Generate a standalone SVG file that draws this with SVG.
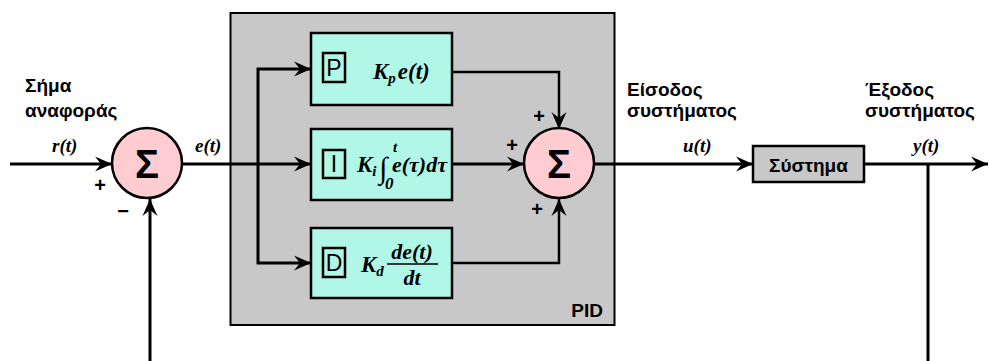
<svg xmlns="http://www.w3.org/2000/svg" width="989" height="361" viewBox="0 0 989 361">
<defs>
<marker id="ah" markerUnits="userSpaceOnUse" markerWidth="20" markerHeight="16" viewBox="-18 -8 20 16" refX="0" refY="0" orient="auto">
<path d="M0,0 L-17,-7.5 L-11,0 L-17,7.5 z" fill="#000"/>
</marker>
<style>
.ln{fill:none;stroke:#000;stroke-width:3}
.ln2{fill:none;stroke:#000;stroke-width:2.5}
.blk{fill:#b0f7e8;stroke:#000;stroke-width:2.5}
.sum{fill:#ffccd2;stroke:#000;stroke-width:2.5}
.lb{fill:none;stroke:#000;stroke-width:2.5}
.sans{font-family:"Liberation Sans",Arial,sans-serif;fill:#000}
.t{font-family:"Liberation Sans",Arial,sans-serif;font-size:19px;font-weight:bold}
.m{font-family:"Liberation Serif","Times New Roman",serif;font-style:italic;font-weight:bold;fill:#000}
.sg{font-family:"Liberation Sans",Arial,sans-serif;font-size:20px;font-weight:bold}
.S{font-family:"Liberation Sans",Arial,sans-serif;font-size:40px;font-weight:bold;text-anchor:middle}
</style>
</defs>

<g id="pid-box">
<rect x="230.5" y="13" width="384" height="312" fill="#c8c8c8" stroke="#000" stroke-width="2"/>
<text class="t" x="603" y="317" text-anchor="end">PID</text>
</g>

<g id="connectors">
<line class="ln" x1="10" y1="164" x2="112" y2="164" marker-end="url(#ah)"/>
<line class="ln" x1="150" y1="361" x2="150" y2="199" marker-end="url(#ah)"/>
<line class="ln" x1="182" y1="164" x2="311" y2="164" marker-end="url(#ah)"/>
<polyline class="ln" points="258,164 258,69 311,69" marker-end="url(#ah)"/>
<polyline class="ln" points="258,164 258,263 311,263" marker-end="url(#ah)"/>
<polyline class="ln2" points="452,72 559,72 559,129" marker-end="url(#ah)"/>
<line class="ln" x1="452" y1="164" x2="524" y2="164" marker-end="url(#ah)"/>
<polyline class="ln2" points="452,263 559,263 559,199" marker-end="url(#ah)"/>
<line class="ln" x1="594" y1="164" x2="753" y2="164" marker-end="url(#ah)"/>
<line class="ln" x1="864" y1="164" x2="988" y2="164" marker-end="url(#ah)"/>
<line class="ln" x1="928" y1="164" x2="928" y2="361"/>
</g>

<g id="sum1">
<circle class="sum" cx="147" cy="163" r="35"/>
<text class="S" x="147" y="178">Σ</text>
<text class="sg" x="100" y="192" text-anchor="middle">+</text>
<text class="sg" x="123" y="218" text-anchor="middle">−</text>
</g>

<g id="sum2">
<circle class="sum" cx="559" cy="163" r="35"/>
<text class="S" x="559" y="178">Σ</text>
<text class="sg" x="539" y="123" text-anchor="middle">+</text>
<text class="sg" x="512" y="152" text-anchor="middle">+</text>
<text class="sg" x="537" y="216" text-anchor="middle">+</text>
</g>

<g id="block-p">
<rect class="blk" x="311" y="33" width="141" height="72"/>
<rect class="lb" x="323" y="53" width="22" height="29"/>
<text class="sans" x="334" y="76" font-size="23" text-anchor="middle">P</text>
<text class="m" x="373" y="79" font-size="23">K<tspan font-size="15" dy="4">p</tspan><tspan dy="-4" dx="2">e(t)</tspan></text>
</g>

<g id="block-i">
<rect class="blk" x="311" y="129" width="141" height="71"/>
<rect class="lb" x="323" y="150" width="22" height="28"/>
<text class="sans" x="334" y="172" font-size="23" text-anchor="middle">I</text>
<text class="m" x="357" y="172" font-size="23">K<tspan font-size="15" dy="4">i</tspan></text>
<text class="m" x="379" y="178" font-size="30">∫</text>
<text class="m" x="393" y="152" font-size="15">t</text>
<text class="m" x="385" y="189" font-size="17">0</text>
<text class="m" x="392" y="172" font-size="22">e(τ)dτ</text>
</g>

<g id="block-d">
<rect class="blk" x="311" y="228" width="141" height="70"/>
<rect class="lb" x="323" y="248" width="22" height="29"/>
<text class="sans" x="334" y="271" font-size="23" text-anchor="middle">D</text>
<text class="m" x="361" y="272" font-size="23">K<tspan font-size="15" dy="4">d</tspan></text>
<line x1="387" y1="264" x2="438" y2="264" stroke="#000" stroke-width="1.5"/>
<text class="m" x="412" y="259" font-size="22" text-anchor="middle">de(t)</text>
<text class="m" x="412" y="285" font-size="22" text-anchor="middle">dt</text>
</g>

<g id="system">
<rect x="753" y="146" width="111" height="36" fill="#c8c8c8" stroke="#000" stroke-width="2.5"/>
<text class="t" x="808.5" y="172" text-anchor="middle" font-size="21">Σύστημα</text>
</g>

<g id="labels">
<text class="t" x="25" y="92">Σήμα</text>
<text class="t" x="25" y="117">αναφοράς</text>
<text class="m" x="52" y="152" font-size="19">r(t)</text>
<text class="m" x="195" y="152" font-size="19">e(t)</text>
<text class="t" x="627" y="96">Είσοδος</text>
<text class="t" x="627" y="117">συστήματος</text>
<text class="m" x="683" y="152" font-size="19">u(t)</text>
<text class="t" x="865" y="96">Έξοδος</text>
<text class="t" x="865" y="117">συστήματος</text>
<text class="m" x="913" y="152" font-size="19">y(t)</text>
</g>
</svg>
